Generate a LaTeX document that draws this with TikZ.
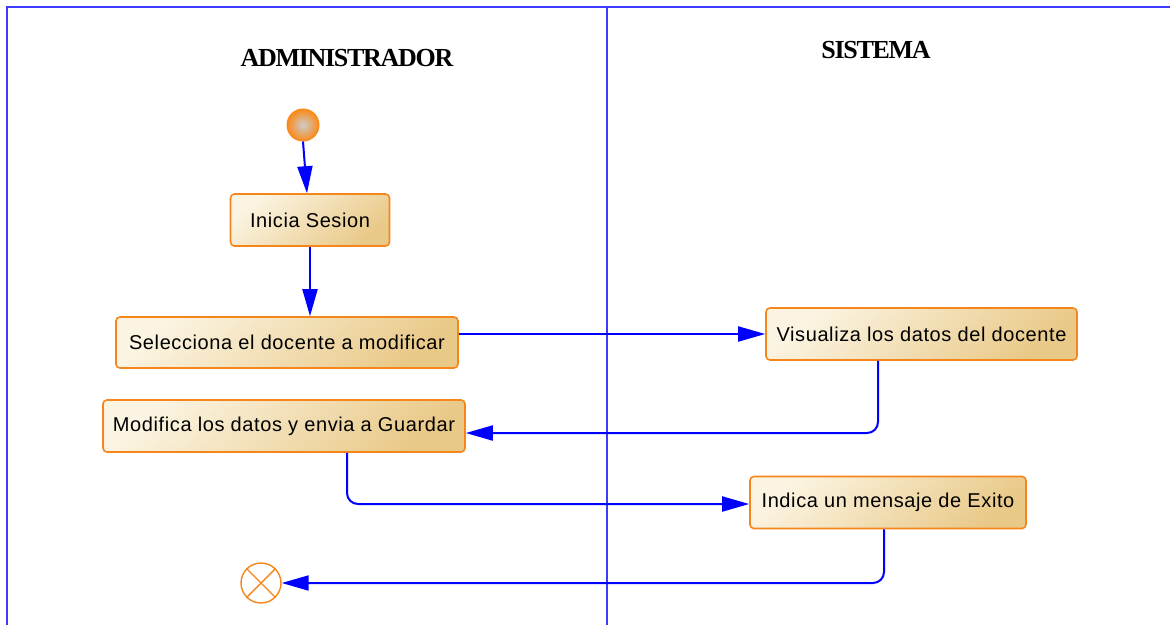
\documentclass[tikz,border=0pt]{standalone}
\usepackage{fontspec}
\setmainfont{Liberation Sans}
\newfontfamily\boxfont[LetterSpace=3]{Liberation Sans}
\newfontfamily\titlefont[LetterSpace=-5]{Liberation Serif}
\usetikzlibrary{arrows.meta}
\definecolor{boxborder}{RGB}{245,134,28}
\definecolor{cream}{RGB}{251,244,226}
\definecolor{midtan}{RGB}{244,226,186}
\definecolor{tan}{RGB}{233,201,136}
\definecolor{flowblue}{RGB}{0,0,255}
\definecolor{frameblue}{RGB}{60,60,255}
\definecolor{startorange}{RGB}{250,138,25}
\tikzset{
  actbox/.style={draw=boxborder, line width=1.6pt, rounded corners=4pt,
    top color=cream, middle color=midtan, bottom color=tan, shading angle=40,
    inner sep=0pt, font=\boxfont\fontsize{20}{23}\selectfont, text=black},
  flow/.style={draw=flowblue, line width=2pt, rounded corners=11pt,
    -{Triangle[length=27pt,width=15pt]}},
  lane/.style={draw=frameblue, line width=1.5pt},
  title/.style={font=\titlefont\bfseries\fontsize{26}{30}\selectfont, text=black, inner sep=0pt, anchor=base}
}
\begin{document}
\begin{tikzpicture}[x=1pt,y=-1pt]
\useasboundingbox (0,0) rectangle (1170,625);
% frame and lanes
\coordinate (tl) at (7,7);
\coordinate (tr) at (1170,7);
\coordinate (bl) at (7,625);
\coordinate (dt) at (607,7);
\coordinate (db) at (607,625);
\draw[lane] (bl) -- (tl) -- (tr);
\draw[lane] (dt) -- (db);
% titles
\node[title] (tadm) at (347,66) {ADMINISTRADOR};
\node[title] (tsis) at (876,58) {SISTEMA};
% start
\node[circle, draw=startorange, line width=1pt, minimum size=32pt, inner sep=0pt,
      inner color=gray!40, outer color=startorange] (st) at (303,125) {};
% activities
\node[actbox, minimum width=159pt, minimum height=52pt] (ini) at (310,220) {Inicia Sesion};
\node[actbox, minimum width=342pt, minimum height=51pt] (sel) at (287,342.5) {Selecciona el docente a modificar};
\node[actbox, minimum width=362pt, minimum height=52pt] (mod) at (284,426) {Modifica los datos y envia a Guardar};
\node[actbox, minimum width=311pt, minimum height=52pt] (vis) at (921.5,334) {Visualiza los datos del docente};
\node[actbox, minimum width=276pt, minimum height=52pt] (ind) at (888,502.5) {Indica un mensaje de Exito};
% end
\node[circle, draw=boxborder, line width=1.4pt, fill=white, minimum size=40pt, inner sep=0pt] (en) at (261,583) {};
\draw[boxborder, line width=1.4pt] (en.north west) -- (en.south east);
\draw[boxborder, line width=1.4pt] (en.north east) -- (en.south west);
% flows
\draw[flow] (st.south) -- ([xshift=-3pt]ini.north);
\draw[flow] (ini.south) -- (ini.south |- sel.north);
\draw[flow] (sel.east |- vis.west) -- (vis.west);
\draw[flow] ([xshift=-43.5pt]vis.south) |- ([yshift=-7pt]mod.east);
\draw[flow] ([xshift=63pt]mod.south) |- ([yshift=-1.5pt]ind.west);
\draw[flow] ([xshift=-4pt]ind.south) |- (en.east);
\end{tikzpicture}
\end{document}
